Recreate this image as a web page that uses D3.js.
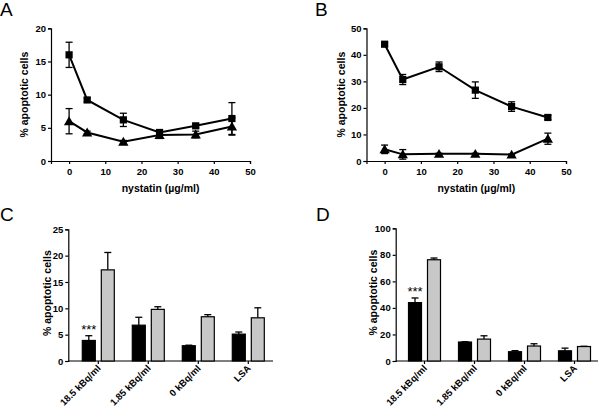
<!DOCTYPE html>
<html><head><meta charset="utf-8">
<script src="https://cdn.jsdelivr.net/npm/d3@7"></script>
<style>body{margin:0;background:#fff}svg{display:block}</style>
</head><body>
<svg id="c" width="600" height="414"></svg>
<script>
// ---- data ----
const doses = [0, 5, 15, 25, 35, 45];
const aSquare = [16.0, 9.2, 6.2, 4.3, 5.3, 6.4];
const aSquareErr = [1.9, 0.3, 1.0, 0.4, 0.3, 2.4];
const aTriangle = [6.0, 4.3, 2.9, 3.9, 4.0, 5.2];
const aTriangleErr = [1.9, 0.2, 0.2, 0.5, 0.5, 1.3];
const bSquare = [44.0, 30.7, 35.5, 26.7, 20.5, 16.4];
const bSquareErr = [0.6, 1.9, 1.8, 3.1, 1.8, 0.8];
const bTriangle = [4.4, 2.5, 2.7, 2.7, 2.4, 8.4];
const bTriangleErr = [1.6, 1.8, 0.2, 0.2, 0.2, 2.1];
const lineXTicks = [0, 10, 20, 30, 40, 50];
const aYTicks = [0, 5, 10, 15, 20];
const bYTicks = [0, 10, 20, 30, 40, 50];

const groups = ["18.5 kBq/ml", "1.85 kBq/ml", "0 kBq/ml", "LSA"];
const cBlack = [3.9, 6.8, 2.9, 5.1];
const cBlackErr = [0.9, 1.5, 0.1, 0.4];
const cGrey = [17.3, 9.8, 8.4, 8.2];
const cGreyErr = [3.3, 0.5, 0.4, 1.9];
const dBlack = [44.0, 14.3, 7.0, 7.7];
const dBlackErr = [3.5, 0.2, 0.8, 2.0];
const dGrey = [76.3, 16.5, 11.3, 10.9];
const dGreyErr = [1.3, 2.5, 1.7, 0.2];
const cYTicks = [0, 5, 10, 15, 20, 25];
const dYTicks = [0, 20, 40, 60, 80, 100];

const svg = d3.select("#c");
const FONT = "'Liberation Sans', Arial, sans-serif";

function styleAxis(g) {
  g.selectAll("path.domain").attr("stroke", "#000").attr("stroke-width", 1.2);
  g.selectAll(".tick line").attr("stroke", "#000").attr("stroke-width", 1.2);
  g.selectAll(".tick text").attr("font-family", FONT).attr("font-size", 9.5)
    .attr("font-weight", "bold").attr("fill", "#000");
}

function letter(t, x, y) {
  svg.append("text").attr("x", x).attr("y", y).text(t)
    .attr("font-family", FONT).attr("font-size", 19).attr("fill", "#000");
}

function yTitle(x, y) {
  svg.append("text").attr("transform", `translate(${x},${y}) rotate(-90)`)
    .attr("text-anchor", "middle").attr("font-family", FONT).attr("font-size", 10.5)
    .attr("font-weight", "bold").attr("fill", "#000").text("% apoptotic cells");
}

function linePanel(opt) {
  const x = d3.scaleLinear().domain([-5, 50]).range([opt.x0, opt.x1]);
  const y = d3.scaleLinear().domain([0, opt.ymax]).range([opt.yb, opt.yt]);
  const gx = svg.append("g").attr("transform", `translate(0,${opt.yb})`)
    .call(d3.axisBottom(x).tickValues(lineXTicks).tickSizeOuter(0).tickSize(3).tickPadding(4));
  styleAxis(gx);
  const gy = svg.append("g").attr("transform", `translate(${opt.x0},0)`)
    .call(d3.axisLeft(y).tickValues(opt.yTicks).tickSizeOuter(0).tickSize(3).tickPadding(2));
  styleAxis(gy);
  svg.append("text").attr("x", (x(0) + x(50)) / 2 + 1).attr("y", opt.yb + 31)
    .attr("text-anchor", "middle").attr("font-family", FONT).attr("font-size", 10.5)
    .attr("font-weight", "bold").attr("fill", "#000").text("nystatin (\u00b5g/ml)");
  yTitle(opt.ytx, (opt.yb + opt.yt) / 2);
  const series = [
    { v: opt.sq, e: opt.sqE, sym: d3.symbolSquare, size: 52 },
    { v: opt.tr, e: opt.trE, sym: d3.symbolTriangle, size: 46 }
  ];
  series.forEach(s => {
    const g = svg.append("g");
    doses.forEach((d, i) => {
      const cx = x(d), lo = y(s.v[i] - s.e[i]), hi = y(s.v[i] + s.e[i]);
      g.append("line").attr("x1", cx).attr("x2", cx).attr("y1", lo).attr("y2", hi)
        .attr("stroke", "#000").attr("stroke-width", 1.3);
      [lo, hi].forEach(yy => g.append("line").attr("x1", cx - 3.5).attr("x2", cx + 3.5)
        .attr("y1", yy).attr("y2", yy).attr("stroke", "#000").attr("stroke-width", 1.3));
    });
    g.append("path").datum(s.v)
      .attr("d", d3.line().x((v, i) => x(doses[i])).y(v => y(v)))
      .attr("fill", "none").attr("stroke", "#000").attr("stroke-width", 2);
    g.selectAll(null).data(s.v).join("path")
      .attr("transform", (v, i) => `translate(${x(doses[i])},${y(v) + (s.sym === d3.symbolTriangle ? 1 : 0)})`)
      .attr("d", d3.symbol().type(s.sym).size(s.size)).attr("fill", "#000");
  });
}

function barPanel(opt) {
  const x = d3.scaleBand().domain(groups).range([opt.bx0, opt.bx1]).paddingInner(0).paddingOuter(0);
  const y = d3.scaleLinear().domain([0, opt.ymax]).range([opt.yb, opt.yt]);
  const gy = svg.append("g").attr("transform", `translate(${opt.x0},0)`)
    .call(d3.axisLeft(y).tickValues(opt.yTicks).tickSizeOuter(0).tickSize(3).tickPadding(2));
  styleAxis(gy);
  const gx = svg.append("g").attr("transform", `translate(0,${opt.yb})`)
    .call(d3.axisBottom(x).tickSizeOuter(0).tickSize(3).tickFormat(""));
  gx.select("path.domain").remove();
  styleAxis(gx);
  svg.append("line").attr("x1", opt.x0).attr("x2", opt.xe).attr("y1", opt.yb).attr("y2", opt.yb)
    .attr("stroke", "#000").attr("stroke-width", 1.2);
  yTitle(opt.ytx, (opt.yb + opt.yt) / 2 - 2);
  const bw = 13, gap = 6;
  const sets = [
    { v: opt.black, e: opt.blackE, fill: "#000", off: -gap / 2 - bw },
    { v: opt.grey, e: opt.greyE, fill: "#c8c8c8", off: gap / 2 }
  ];
  sets.forEach(s => {
    groups.forEach((gname, i) => {
      const cx = x(gname) + x.bandwidth() / 2;
      const bx = cx + s.off;
      const top = y(s.v[i]), eh = y(s.v[i] + s.e[i]);
      svg.append("line").attr("x1", bx + bw / 2).attr("x2", bx + bw / 2).attr("y1", top).attr("y2", eh)
        .attr("stroke", "#000").attr("stroke-width", 1.3);
      svg.append("line").attr("x1", bx + bw / 2 - 3.5).attr("x2", bx + bw / 2 + 3.5).attr("y1", eh).attr("y2", eh)
        .attr("stroke", "#000").attr("stroke-width", 1.3);
      svg.append("rect").attr("x", bx).attr("y", top).attr("width", bw).attr("height", opt.yb - top)
        .attr("fill", s.fill).attr("stroke", "#000").attr("stroke-width", 1.2);
    });
  });
  const cx0 = x(groups[0]) + x.bandwidth() / 2 - gap / 2 - bw / 2;
  svg.append("text").attr("x", cx0).attr("y", y(opt.black[0] + opt.blackE[0]) - 2)
    .attr("text-anchor", "middle").attr("font-family", FONT).attr("font-size", 13)
    .attr("fill", "#000").text("***");
  groups.forEach(gname => {
    const cx = x(gname) + x.bandwidth() / 2;
    svg.append("text").attr("transform", `translate(${cx + 3},${opt.yb + 8}) rotate(-45)`)
      .attr("text-anchor", "end").attr("font-family", FONT).attr("font-size", 9.5)
      .attr("font-weight", "bold").attr("fill", "#000").text(gname);
  });
}

letter("A", 0, 16);
letter("B", 315, 16);
letter("C", 0, 221);
letter("D", 316, 221);

linePanel({ x0: 51, x1: 250, yb: 161, yt: 28.3, ymax: 20, yTicks: aYTicks, ytx: 28,
  sq: aSquare, sqE: aSquareErr, tr: aTriangle, trE: aTriangleErr });
linePanel({ x0: 366.5, x1: 566, yb: 161, yt: 28.3, ymax: 50, yTicks: bYTicks, ytx: 345,
  sq: bSquare, sqE: bSquareErr, tr: bTriangle, trE: bTriangleErr });
barPanel({ x0: 68.3, xe: 273, bx0: 73.3, bx1: 273.3, yb: 361, yt: 229.3, ymax: 25, yTicks: cYTicks, ytx: 51,
  black: cBlack, blackE: cBlackErr, grey: cGrey, greyE: cGreyErr });
barPanel({ x0: 395.7, xe: 598, bx0: 399.5, bx1: 599.5, yb: 361, yt: 228.3, ymax: 100, yTicks: dYTicks, ytx: 377,
  black: dBlack, blackE: dBlackErr, grey: dGrey, greyE: dGreyErr });
</script>
</body></html>
